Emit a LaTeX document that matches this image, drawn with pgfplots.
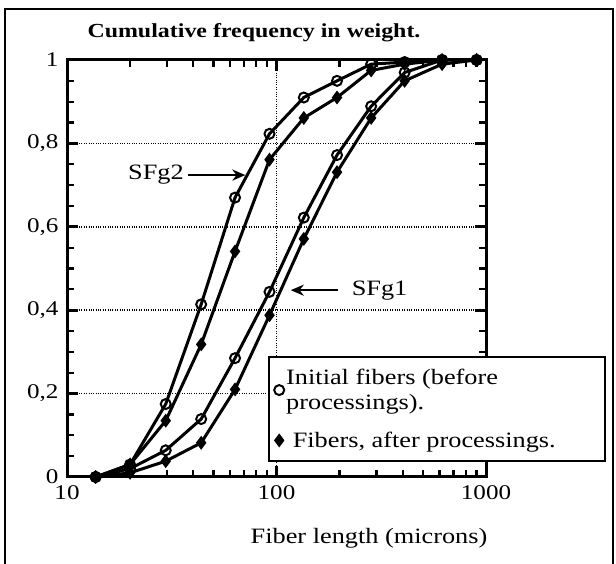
\documentclass[border=0pt]{standalone}
\usepackage{fontspec}
\setmainfont{Liberation Serif}[FakeStretch=1.2]
\usepackage{pgfplots}
\pgfplotsset{compat=1.18}
\usetikzlibrary{arrows.meta}

\pgfplotstableread{
x     c2     d2     c1     d1
13.7  0      0      0      0
20    0.03   0.03   0.02   0.01
29.6  0.175  0.135  0.064  0.038
43.7  0.414  0.318  0.139  0.082
63.4  0.670  0.541  0.285  0.210
92.6  0.823  0.761  0.444  0.388
135   0.910  0.861  0.622  0.571
194.5 0.950  0.910  0.772  0.731
283   0.990  0.975  0.889  0.861
409   0.995  0.990  0.970  0.950
617   1      1      1      0.990
902   1      1      1      1
}\datatable

\begin{document}
\begin{tikzpicture}[x=1bp,y=1bp]
\useasboundingbox (-67,-87) rectangle (549,477);
\draw[line width=1.8bp] (-62,-87) -- (-62,468) -- (546,468) -- (546,-87);
\begin{axis}[
  at={(0,0)}, anchor=south west,
  scale only axis, width=419bp, height=417bp,
  xmode=log, xmin=10, xmax=1000, ymin=0, ymax=1,
  xtick={10,100,1000}, xticklabels={10,100,1000},
  ytick={0,0.2,0.4,0.6,0.8,1},
  major tick length=0pt, minor tick length=0pt,
  yticklabel style={/pgf/number format/fixed,/pgf/number format/use comma},
  /pgf/number format/assume math mode=true,
  xmajorgrids, ymajorgrids,
  major grid style={black, dotted, line width=1.6bp},
  ticklabel style={font=\fontsize{21}{23}\selectfont},
  xticklabel style={yshift=-5bp},
  yticklabel style={xshift=-5bp},
  legend style={at={(rel axis cs:0.48,0.036)}, anchor=south west,
    draw=black, line width=2.2bp, fill=white,
    font=\fontsize{22}{25}\selectfont, cells={anchor=west, align=left},
    inner xsep=5bp, inner ysep=10bp, row sep=17bp},
  legend image code/.code={\draw[#1, only marks] plot coordinates {(0.12cm,0cm)};},
  clip=false,
]
\addplot[black, line width=3bp, mark=o, mark size=5bp, mark options={line width=2bp, fill=white, solid}] table[x=x,y=c2] {\datatable};
\addlegendentry{Initial fibers (before\\processings).}
\addplot[black, line width=3bp, mark=diamond*, mark size=4.5bp, mark options={solid}] table[x=x,y=d2] {\datatable};
\addlegendentry{\ Fibers, after processings.\hspace*{42bp}}
\addplot[forget plot, black, line width=3bp, mark=o, mark size=5bp, mark options={line width=2bp, fill=white, solid}] table[x=x,y=c1] {\datatable};
\addplot[forget plot, black, line width=3bp, mark=diamond*, mark size=4.5bp, mark options={solid}] table[x=x,y=d1] {\datatable};

% tick marks, drawn inward
\pgfplotsinvokeforeach{0.05,0.1,0.15,0.25,0.3,0.35,0.45,0.5,0.55,0.65,0.7,0.75,0.85,0.9,0.95}{
  \draw[line width=2.2bp] (axis cs:10,#1) -- ([xshift=7bp]axis cs:10,#1);
  \draw[line width=2.2bp] (axis cs:1000,#1) -- ([xshift=-7bp]axis cs:1000,#1);
}
\pgfplotsinvokeforeach{0.2,0.4,0.6,0.8}{
  \draw[line width=3bp] (axis cs:10,#1) -- ([xshift=11bp]axis cs:10,#1);
  \draw[line width=3bp] (axis cs:1000,#1) -- ([xshift=-11bp]axis cs:1000,#1);
}
\pgfplotsinvokeforeach{20,30,40,50,60,70,80,90,200,300,400,500,600,700,800,900}{
  \draw[line width=2.2bp] (axis cs:#1,0) -- ([yshift=7bp]axis cs:#1,0);
  \draw[line width=2.2bp] (axis cs:#1,1) -- ([yshift=-7bp]axis cs:#1,1);
}
\draw[line width=3bp] (axis cs:100,0) -- ([yshift=11bp]axis cs:100,0);
\draw[line width=3bp] (axis cs:100,1) -- ([yshift=-11bp]axis cs:100,1);
\draw[line width=3bp] (rel axis cs:0,0) rectangle (rel axis cs:1,1);

\node[font=\fontsize{22}{24}\selectfont] at (axis cs:26.6,0.724) {SFg2};
\draw[line width=2.2bp, -{Stealth[length=13bp,width=11bp]}] (axis cs:37.8,0.724) -- (axis cs:71,0.724);
\node[font=\fontsize{22}{24}\selectfont, anchor=west] at (axis cs:220,0.448) {SFg1};
\draw[line width=2.2bp, -{Stealth[length=13bp,width=11bp]}] (axis cs:197,0.448) -- (axis cs:117,0.448);
\end{axis}
\node[anchor=west, font=\bfseries\fontsize{20}{22}\selectfont] at (17,444) {Cumulative frequency in weight.};
\node[font=\fontsize{22}{24}\selectfont] at (302,-61) {Fiber length (microns)};
\end{tikzpicture}
\end{document}
